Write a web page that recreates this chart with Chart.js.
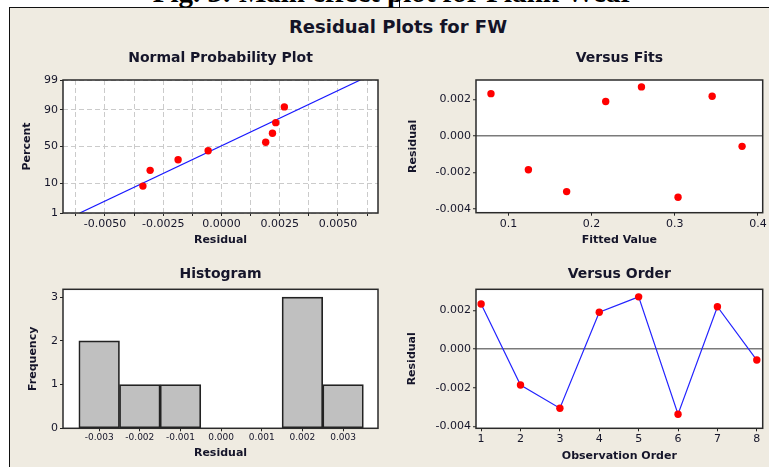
<!DOCTYPE html>
<html>
<head>
<meta charset="utf-8">
<script src="https://cdn.jsdelivr.net/npm/chart.js@4.4.1/dist/chart.umd.min.js"></script>
<style>
  html, body { margin: 0; padding: 0; background: #ffffff; }
  body { width: 769px; height: 467px; position: relative; overflow: hidden; }
  #caption { position: absolute; left: 0; top: -22px; width: 786px; text-align: center;
             font: bold 29px 'Liberation Serif', serif; line-height: 29px; color: #000; white-space: nowrap; }
  #cursor { position: absolute; left: 399px; top: 0; width: 1px; height: 7px; background: #000; }
  #panel { position: absolute; left: 9px; top: 7px; width: 760px; height: 460px; background: #EFEBE1;
           border-left: 1.5px solid #111; border-top: 1.5px solid #111; box-sizing: border-box; }
  #mainTitle { position: absolute; left: 9px; width: 778px; top: 16px; text-align: center;
               font: bold 18px 'DejaVu Sans', sans-serif; line-height: 22px; color: #141428; }
  .box { position: absolute; }
  canvas { display: block; }
</style>
</head>
<body>
<div id="caption">Fig. 3: Main effect plot for Flank Wear</div>
<div id="cursor"></div>
<div id="panel"></div>
<div id="mainTitle">Residual Plots for FW</div>
<div class="box" style="left:10px;top:44px;"><canvas id="c1" width="380" height="208"></canvas></div>
<div class="box" style="left:390px;top:44px;"><canvas id="c2" width="379" height="208"></canvas></div>
<div class="box" style="left:10px;top:256px;"><canvas id="c3" width="380" height="211"></canvas></div>
<div class="box" style="left:390px;top:256px;"><canvas id="c4" width="379" height="211"></canvas></div>
<script>
// ---------------- DATA ----------------
const observationOrder = [1, 2, 3, 4, 5, 6, 7, 8];
const residuals = [0.00233, -0.00186, -0.00306, 0.00190, 0.00270, -0.00337, 0.00219, -0.00057];
const fittedValues = [0.079, 0.124, 0.170, 0.217, 0.260, 0.304, 0.345, 0.381];
// normal probability plot: plotting positions (percent) of sorted residuals
const normalPercent = [8.3, 20.2, 32.1, 44.0, 56.0, 67.9, 79.8, 91.7];
// fitted normal line end points (residual, percent)
const fitLineResidual = [-0.00608, 0.00596];
const fitLinePercent = [1, 99];
// histogram
const histBins = [-0.003, -0.002, -0.001, 0.000, 0.001, 0.002, 0.003];
const histCounts = [2, 1, 1, 0, 0, 3, 1];
// tick labels
const percentTicks = [1, 10, 50, 90, 99];
const nppGridTicks = [-0.00625, -0.005, -0.00375, -0.0025, -0.00125, 0, 0.00125, 0.0025, 0.00375, 0.005, 0.00625];
const nppLabelTicks = [-0.005, -0.0025, 0, 0.0025, 0.005];
const residualTicks = [-0.004, -0.002, 0, 0.002];
const fitTicks = [0.1, 0.2, 0.3, 0.4];
const freqTicks = [0, 1, 2, 3];

// ---------------- HELPERS ----------------
function probit(p) {
  const a = [-3.969683028665376e+01, 2.209460984245205e+02, -2.759285104469687e+02, 1.383577518672690e+02, -3.066479806614716e+01, 2.506628277459239e+00];
  const b = [-5.447609879822406e+01, 1.615858368580409e+02, -1.556989798598866e+02, 6.680131188771972e+01, -1.328068155288572e+01];
  const c = [-7.784894002430293e-03, -3.223964580411365e-01, -2.400758277161838e+00, -2.549671010229768e+00, 4.374664141464968e+00, 2.938163982698783e+00];
  const d = [7.784695709041462e-03, 3.224671290700398e-01, 2.445134137142996e+00, 3.754408661907416e+00];
  const pl = 0.02425, ph = 1 - pl;
  let q, r;
  if (p < pl) { q = Math.sqrt(-2 * Math.log(p)); return (((((c[0]*q+c[1])*q+c[2])*q+c[3])*q+c[4])*q+c[5]) / ((((d[0]*q+d[1])*q+d[2])*q+d[3])*q+1); }
  if (p <= ph) { q = p - 0.5; r = q*q; return (((((a[0]*r+a[1])*r+a[2])*r+a[3])*r+a[4])*r+a[5])*q / (((((b[0]*r+b[1])*r+b[2])*r+b[3])*r+b[4])*r+1); }
  q = Math.sqrt(-2 * Math.log(1 - p));
  return -(((((c[0]*q+c[1])*q+c[2])*q+c[3])*q+c[4])*q+c[5]) / ((((d[0]*q+d[1])*q+d[2])*q+d[3])*q+1);
}

const FONT = "'DejaVu Sans', sans-serif";
const TXT = '#15152a';
const TICK_COL = '#222222';
const FRAME_COL = '#2a2a2a';

const framePlugin = {
  id: 'frame',
  beforeDraw(chart) {
    const { ctx, chartArea: a } = chart;
    ctx.save(); ctx.fillStyle = '#ffffff';
    ctx.fillRect(a.left, a.top, a.right - a.left, a.bottom - a.top);
    ctx.restore();
  },
  afterDraw(chart) {
    const { ctx, chartArea: a } = chart;
    ctx.save(); ctx.strokeStyle = FRAME_COL; ctx.lineWidth = 1.5;
    ctx.strokeRect(a.left, a.top, a.right - a.left, a.bottom - a.top);
    ctx.restore();
  }
};
Chart.register(framePlugin);

function panelTitle(text, padTop, padBottom) {
  return { display: true, text, fullSize: false, color: TXT,
           font: { family: FONT, size: 14, weight: 'bold', lineHeight: 1.2 },
           padding: { top: padTop, bottom: padBottom } };
}
function axisTitle(text, pad) {
  return { display: true, text, color: TXT, font: { family: FONT, size: 11, weight: 'bold', lineHeight: 1.2 }, padding: pad };
}
function setTicks(list) { return s => { s.ticks = list.map(v => ({ value: v })); }; }
function fixSize(size) { return s => { if (s.isHorizontal()) s.height = size; else s.width = size; }; }
const zeroLine = c => (c.tick && Math.abs(c.tick.value) < 1e-12) ? '#7a7a7a' : 'rgba(0,0,0,0)';

const baseOpts = {
  animation: false, responsive: false, events: [], devicePixelRatio: 1,
};

// ---------------- 1: Normal probability plot ----------------
const sortedResiduals = residuals.slice().sort((p, q) => p - q);
new Chart(document.getElementById('c1'), {
  type: 'scatter',
  data: { datasets: [
    { data: fitLineResidual.map((r, i) => ({ x: r, y: probit(fitLinePercent[i] / 100) })),
      showLine: true, borderColor: '#1818ff', borderWidth: 1.2, pointRadius: 0, order: 2 },
    { data: sortedResiduals.map((r, i) => ({ x: r, y: probit(normalPercent[i] / 100) })),
      pointRadius: 3.7, backgroundColor: '#ff0000', borderWidth: 0, order: 1 }
  ]},
  options: { ...baseOpts,
    layout: { padding: { left: 0, right: 12, top: 0, bottom: 0 } },
    plugins: { legend: { display: false }, tooltip: { enabled: false },
               title: panelTitle('Normal Probability Plot', 5.6, 13.6) },
    scales: {
      x: { type: 'linear', min: -0.0068, max: 0.00672,
           afterBuildTicks: setTicks(nppGridTicks), afterFit: fixSize(39),
           ticks: { autoSkip: false, maxRotation: 0, padding: 2, color: TXT, font: { family: FONT, size: 11 },
                    callback: v => nppLabelTicks.some(t => Math.abs(t - v) < 1e-9) ? v.toFixed(4) : '' },
           grid: { color: '#cbcbcb', lineWidth: 1, tickLength: 3, tickColor: TICK_COL, tickBorderDash: [] },
           border: { display: false, dash: [5, 3] },
           title: axisTitle('Residual', { top: 0, bottom: 5.4 }) },
      y: { type: 'linear', min: probit(0.01), max: probit(0.99),
           afterBuildTicks: setTicks(percentTicks.map(p => probit(p / 100))), afterFit: fixSize(53),
           ticks: { autoSkip: false, padding: 2, color: TXT, font: { family: FONT, size: 11 },
                    callback: (v, i) => String(percentTicks[i]) },
           grid: { color: '#cbcbcb', lineWidth: 1, tickLength: 3, tickColor: TICK_COL, tickBorderDash: [] },
           border: { display: false, dash: [5, 3] },
           title: axisTitle('Percent', { top: 10.4, bottom: 0 }) }
    }
  }
});

// ---------------- 2: Versus fits ----------------
new Chart(document.getElementById('c2'), {
  type: 'scatter',
  data: { datasets: [
    { data: fittedValues.map((f, i) => ({ x: f, y: residuals[i] })),
      pointRadius: 3.7, backgroundColor: '#ff0000', borderWidth: 0 }
  ]},
  options: { ...baseOpts,
    layout: { padding: { left: 0, right: 6.3, top: 0, bottom: 0 } },
    plugins: { legend: { display: false }, tooltip: { enabled: false },
               title: panelTitle('Versus Fits', 5.6, 13.6) },
    scales: {
      x: { type: 'linear', min: 0.061, max: 0.4058,
           afterBuildTicks: setTicks(fitTicks), afterFit: fixSize(39.3),
           ticks: { autoSkip: false, maxRotation: 0, padding: 2, color: TXT, font: { family: FONT, size: 11 },
                    callback: v => v.toFixed(1) },
           grid: { drawOnChartArea: false, tickLength: 3, tickColor: TICK_COL },
           border: { display: false },
           title: axisTitle('Fitted Value', { top: 0, bottom: 5.4 }) },
      y: { type: 'linear', min: -0.00422, max: 0.00308,
           afterBuildTicks: setTicks(residualTicks), afterFit: fixSize(86),
           ticks: { autoSkip: false, padding: 2, color: TXT, font: { family: FONT, size: 11 },
                    callback: v => v.toFixed(3) },
           grid: { color: zeroLine, lineWidth: 1.5, tickLength: 3, tickColor: TICK_COL, tickWidth: 1 },
           border: { display: false },
           title: axisTitle('Residual', { top: 16.1, bottom: 0 }) }
    }
  }
});

// ---------------- 3: Histogram ----------------
new Chart(document.getElementById('c3'), {
  type: 'bar',
  data: { datasets: [
    { data: histBins.map((b, i) => ({ x: b, y: histCounts[i] })),
      backgroundColor: '#c0c0c0', borderColor: '#222222', borderWidth: 1.7, borderSkipped: false,
      barPercentage: 1, categoryPercentage: 1 }
  ]},
  options: { ...baseOpts,
    layout: { padding: { left: 0, right: 12, top: 0, bottom: 0 } },
    plugins: { legend: { display: false }, tooltip: { enabled: false },
               title: panelTitle('Histogram', 9.6, 6.9) },
    scales: {
      x: { type: 'linear', min: -0.00389, max: 0.00386, offset: false,
           afterBuildTicks: setTicks(histBins), afterFit: fixSize(38.7),
           ticks: { autoSkip: false, maxRotation: 0, padding: 1, color: TXT, font: { family: FONT, size: 9 },
                    callback: v => v.toFixed(3) },
           grid: { offset: false, drawOnChartArea: false, tickLength: 3, tickColor: TICK_COL },
           border: { display: false },
           title: axisTitle('Residual', { top: 0, bottom: 7.4 }) },
      y: { type: 'linear', min: 0, max: 3.18,
           afterBuildTicks: setTicks(freqTicks), afterFit: fixSize(53),
           ticks: { autoSkip: false, padding: 2, color: TXT, font: { family: FONT, size: 11 },
                    callback: v => String(v) },
           grid: { drawOnChartArea: false, tickLength: 3, tickColor: TICK_COL },
           border: { display: false },
           title: axisTitle('Frequency', { top: 16.4, bottom: 0 }) }
    }
  }
});

// ---------------- 4: Versus order ----------------
new Chart(document.getElementById('c4'), {
  type: 'scatter',
  data: { datasets: [
    { data: observationOrder.map((o, i) => ({ x: o, y: residuals[i] })),
      showLine: true, borderColor: '#2424ff', borderWidth: 1.2,
      pointRadius: 3.7, pointBackgroundColor: '#ff0000', pointBorderWidth: 0 }
  ]},
  options: { ...baseOpts,
    layout: { padding: { left: 0, right: 6.3, top: 0, bottom: 0 } },
    plugins: { legend: { display: false }, tooltip: { enabled: false },
               title: panelTitle('Versus Order', 9.6, 6.9) },
    scales: {
      x: { type: 'linear', min: 0.87, max: 8.15,
           afterBuildTicks: setTicks(observationOrder), afterFit: fixSize(38.7),
           ticks: { autoSkip: false, maxRotation: 0, padding: 1, color: TXT, font: { family: FONT, size: 11 },
                    callback: v => String(v) },
           grid: { drawOnChartArea: false, tickLength: 3, tickColor: TICK_COL },
           border: { display: false },
           title: axisTitle('Observation Order', { top: 0, bottom: 4.4 }) },
      y: { type: 'linear', min: -0.0041, max: 0.00309,
           afterBuildTicks: setTicks(residualTicks), afterFit: fixSize(86),
           ticks: { autoSkip: false, padding: 2, color: TXT, font: { family: FONT, size: 11 },
                    callback: v => v.toFixed(3) },
           grid: { color: zeroLine, lineWidth: 1.5, tickLength: 3, tickColor: TICK_COL, tickWidth: 1 },
           border: { display: false },
           title: axisTitle('Residual', { top: 15.1, bottom: 0 }) }
    }
  }
});
</script>
</body>
</html>
